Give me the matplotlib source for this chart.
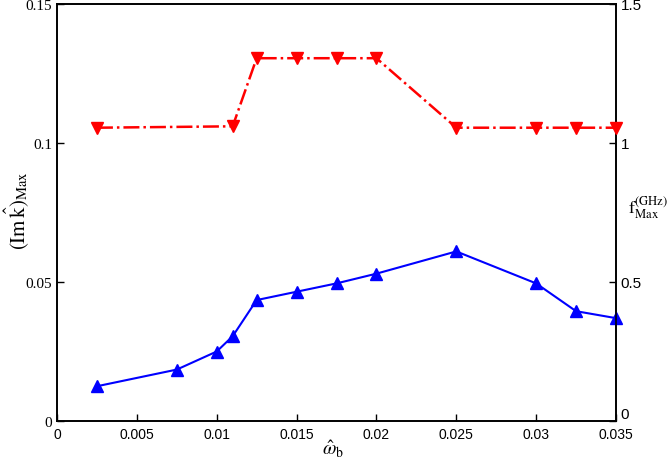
import matplotlib
matplotlib.use("Agg")
import matplotlib.pyplot as plt

plt.rcParams['mathtext.fontset'] = 'stix'

omega_b_blue = [0.0025, 0.0075, 0.010, 0.011, 0.0125, 0.015, 0.0175, 0.020, 0.025, 0.030, 0.0325, 0.035]
imk_max = [0.0125, 0.0185, 0.025, 0.0305, 0.0435, 0.0465, 0.0495, 0.0530, 0.0610, 0.0495, 0.0395, 0.0370]

omega_b_red = [0.0025, 0.011, 0.0125, 0.015, 0.0175, 0.020, 0.025, 0.030, 0.0325, 0.035]
f_max = [1.055, 1.06, 1.305, 1.305, 1.305, 1.305, 1.055, 1.055, 1.055, 1.055]

xticks = [0, 0.005, 0.01, 0.015, 0.02, 0.025, 0.03, 0.035]
xticklabels = ['0', '0.005', '0.01', '0.015', '0.02', '0.025', '0.03', '0.035']
yticks_left = [0, 0.05, 0.1, 0.15]
yticklabels_left = ['0', '0.05', '0.1', '0.15']
yticks_right = [0, 0.5, 1, 1.5]
yticklabels_right = ['0', '0.5', '1', '1.5']

fig = plt.figure(figsize=(6.69, 4.60), dpi=100)
ax = fig.add_axes([57/669, 38/460, 559/669, 417/460])
ax2 = ax.twinx()

ax.plot(omega_b_blue, imk_max, color='blue', linewidth=1.5, marker='^',
        markersize=9, markerfacecolor='blue', markeredgecolor='blue', clip_on=False, zorder=5)
ax2.plot(omega_b_red, f_max, color='red', linewidth=1.8, linestyle='-.', marker='v',
         markersize=9, markerfacecolor='red', markeredgecolor='red', clip_on=False, zorder=5)

ax.set_xlim(0, 0.035)
ax.set_ylim(0, 0.15)
ax2.set_ylim(0, 1.5)

ax.set_xticks(xticks)
ax.set_xticklabels(xticklabels, fontfamily='Liberation Sans', fontsize=10)
ax.set_yticks(yticks_left)
ax.set_yticklabels(yticklabels_left, fontfamily='Liberation Serif', fontsize=11)
ax2.set_yticks(yticks_right)
ax2.set_yticklabels(yticklabels_right, fontfamily='Liberation Sans', fontsize=11)
ax2.get_yticklabels()[0].set_va('bottom')

ax.tick_params(direction='in', length=5, width=1, top=False)
ax.tick_params(axis='x', pad=4)
ax2.tick_params(direction='in', length=5, width=1)

for a in (ax, ax2):
    for s in a.spines.values():
        s.set_linewidth(1.2)

ax.set_xlabel(r'$\hat{\omega}_{\rm b}$', fontsize=14)
ax.xaxis.set_label_coords(0.494, -0.040)
ax.set_ylabel(r'$(\mathrm{Im}\,\hat{\mathrm{k}})_{\mathrm{Max}}$', fontsize=15)
ax.yaxis.set_label_coords(-0.046, 0.506)
fig.text(628/669, 1 - 208/460, r'${\rm f}^{\rm (GHz)}_{\rm Max}$', fontsize=13,
         ha='left', va='center')

fig.savefig('out.png', dpi=100)
